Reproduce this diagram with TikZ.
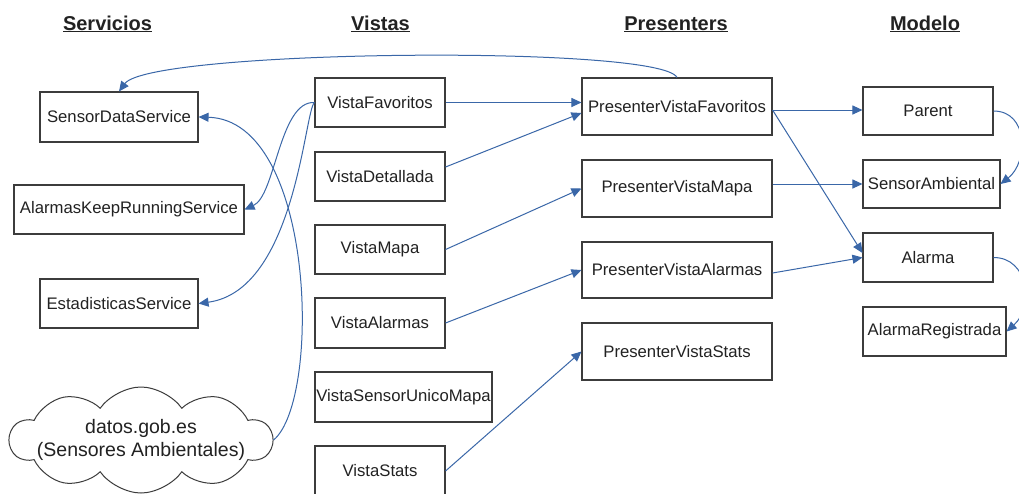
\documentclass[tikz,border=0pt]{standalone}
\usepackage{fontspec}
\setmainfont{Liberation Sans}
\usetikzlibrary{arrows.meta,shapes.symbols}
\definecolor{lnkc}{HTML}{3A67A8}
\definecolor{bord}{HTML}{3C3C3C}
\definecolor{txt}{HTML}{222222}
\begin{document}
\begin{tikzpicture}[x=1pt,y=-1pt,
  box/.style={draw=bord,line width=1.1pt,inner sep=0pt,text=txt,font=\fontsize{16.7}{19}\selectfont},
  hdr/.style={anchor=base,text=txt,font=\fontsize{20}{24}\selectfont\bfseries},
  lnk/.style={draw=lnkc,line width=1pt,-{Triangle[length=10pt,width=9pt]}},
]
\clip (0,0) rectangle (1019,493);
\fill[white] (0,0) rectangle (1019,493);
% headers
\node[hdr] (hs) at (107.5,30) {\underline{Servicios}};
\node[hdr] (hv) at (380.5,30) {\underline{Vistas}};
\node[hdr] (hp) at (676,30) {\underline{Presenters}};
\node[hdr] (hm) at (925,30) {\underline{Modelo}};
% servicios
\node[box,minimum width=158pt,minimum height=50pt] (sds) at (119,117) {SensorDataService};
\node[box,minimum width=230pt,minimum height=49pt] (akrs) at (129,209.5) {AlarmasKeepRunningService};
\node[box,minimum width=158pt,minimum height=49pt] (est) at (119,303.5) {EstadisticasService};
% cloud
\node[cloud,cloud puffs=10,cloud puff arc=110,cloud ignores aspect,draw=bord,line width=1pt,
  minimum width=262pt,minimum height=106pt,inner sep=0pt,
  label={[name=cloudtxt,align=center,text=txt,font=\fontsize{19.5}{23}\selectfont]center:{datos.gob.es\\(Sensores Ambientales)}}] (cloud) at (141,440) {};
% vistas
\node[box,minimum width=130pt,minimum height=49pt] (vfav) at (380,102.5) {VistaFavoritos};
\node[box,minimum width=130pt,minimum height=49pt] (vdet) at (380,176.5) {VistaDetallada};
\node[box,minimum width=130pt,minimum height=49pt] (vmap) at (380,249.5) {VistaMapa};
\node[box,minimum width=130pt,minimum height=50pt] (valr) at (380,323) {VistaAlarmas};
\node[box,minimum width=177pt,minimum height=50pt] (vsum) at (403.5,397) {VistaSensorUnicoMapa};
\node[box,minimum width=130pt,minimum height=50pt] (vstats) at (380,471) {VistaStats};
% presenters
\node[box,minimum width=190pt,minimum height=57pt] (pvf) at (677,106.5) {PresenterVistaFavoritos};
\node[box,minimum width=190pt,minimum height=57pt] (pvm) at (677,188.5) {PresenterVistaMapa};
\node[box,minimum width=190pt,minimum height=56pt] (pva) at (677,270) {PresenterVistaAlarmas};
\node[box,minimum width=190pt,minimum height=57pt] (pvs) at (677,351.5) {PresenterVistaStats};
% modelo
\node[box,minimum width=130pt,minimum height=48pt] (parent) at (928,111) {Parent};
\node[box,minimum width=137pt,minimum height=48pt] (sa) at (931.5,184) {SensorAmbiental};
\node[box,minimum width=130pt,minimum height=49pt] (alarma) at (928,257.5) {Alarma};
\node[box,minimum width=143pt,minimum height=49pt] (ar) at (934.5,331.5) {AlarmaRegistrada};
% connectors: vistas -> presenters
\draw[lnk] (vfav.east) -- (vfav.east -| pvf.west);
\draw[lnk] ([yshift=9.5pt]vdet.east) -- ([yshift=-6.5pt]pvf.west);
\draw[lnk] (vmap.east) -- (pvm.west);
\draw[lnk] (valr.east) -- (pva.west);
\draw[lnk] (vstats.east) -- (pvs.west);
% presenters -> modelo
\draw[lnk] ([yshift=-3.5pt]pvf.east) -- ([yshift=-3.5pt]pvf.east -| parent.west);
\draw[lnk] ([yshift=-3.5pt]pvf.east) -- ([yshift=4.5pt]alarma.west);
\draw[lnk] (pvm.east |- sa.west) -- (sa.west);
\draw[lnk] ([yshift=-3pt]pva.east) -- (alarma.west);
% modelo self links
\draw[lnk] (parent.east) .. controls +(35,0) and +(28,-22) .. (sa.east);
\draw[lnk] (alarma.east) .. controls +(35,0) and +(28,-25) .. (ar.east);
% vistas -> servicios
\draw[lnk] (vfav.west) .. controls +(-35,-2) and +(31,-14) .. (akrs.east);
\draw[lnk] (vfav.west) .. controls +(-10,8) and +(97,-13) .. (est.east);
% presenter -> servicio
\draw[lnk] (pvf.north) .. controls +(-17,-33) and +(31,-42) .. (sds.north);
% cloud -> servicio
\draw[lnk] (cloud.east) .. controls +(48,-40) and +(117,3) .. (sds.east);
\end{tikzpicture}
\end{document}
